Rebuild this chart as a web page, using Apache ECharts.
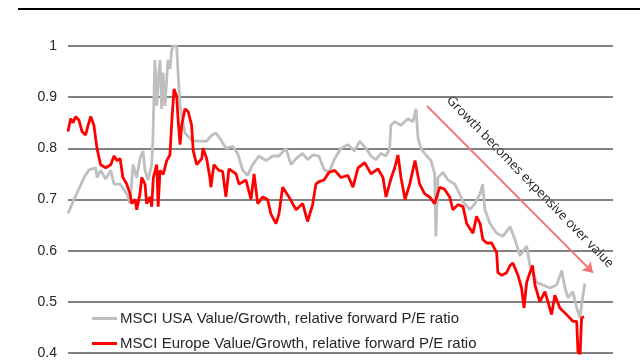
<!DOCTYPE html>
<html><head><meta charset="utf-8">
<script src="https://cdn.jsdelivr.net/npm/echarts@6/dist/echarts.min.js"></script>
<style>html,body{margin:0;padding:0;background:#fff}#c{width:640px;height:360px}</style>
</head><body><div id="c"></div>
<script>
// Y axis ticks
const yTicks = [0.4, 0.5, 0.6, 0.7, 0.8, 0.9, 1];
const seriesNames = ['MSCI USA Value/Growth, relative forward P/E ratio', 'MSCI Europe Value/Growth, relative forward P/E ratio'];
const annotationText = 'Growth becomes expensive over value';

// MSCI USA Value/Growth (decimal year, ratio)
const usaDates = [1995.00,1995.30,1995.79,1996.04,1996.37,1996.43,1996.61,1996.86,1997.11,1997.27,
  1997.57,1997.90,1998.06,1998.21,1998.39,1998.55,1998.70,1998.80,1998.95,1999.13,1999.19,1999.29,1999.38,1999.44,1999.54,1999.62,1999.69,1999.79,1999.87,1999.93,2000.03,2000.12,2000.18,2000.36,2000.43,2000.53,2000.77,2001.12,2001.46,2001.84,
  2002.05,2002.30,2002.55,2002.79,2003.12,2003.37,2003.62,2003.86,2004.11,2004.42,2004.77,2005.10,2005.41,2005.75,2006.00,2006.25,2006.58,2006.82,2007.07,2007.38,2007.63,2007.88,2008.16,2008.47,2008.81,2009.14,2009.39,2009.70,2009.95,2010.19,2010.44,2010.69,2010.87,2010.93,2011.12,2011.43,2011.77,2012.02,2012.17,2012.27,2012.41,2012.66,2012.91,2013.09,2013.15,2013.25,2013.50,2013.75,2014.08,2014.39,2014.49,2014.83,2015.08,2015.33,2015.46,2015.57,2015.82,2016.15,2016.46,2016.81,2017.05,2017.30,2017.63,2017.79,2018.12,2018.43,2018.78,2019.11,2019.36,2019.52,2019.67,2019.91,2020.10,2020.26,2020.39,2020.50];
const usaValues = [0.673,0.700,0.743,0.758,0.762,0.743,0.757,0.740,0.757,0.730,
  0.730,0.711,0.692,0.768,0.743,0.780,0.795,0.757,0.738,0.768,0.820,0.973,0.883,0.929,0.973,0.877,0.948,0.883,0.935,0.973,0.955,0.992,1.000,1.000,0.948,0.883,0.830,0.815,0.814,0.814,
  0.824,0.830,0.816,0.800,0.804,0.790,0.757,0.747,0.768,0.785,0.776,0.785,0.785,0.800,0.768,0.780,0.790,0.778,0.787,0.785,0.759,0.753,0.780,0.800,0.807,0.795,0.814,0.800,0.785,0.778,0.790,0.785,0.800,0.845,0.852,0.845,0.858,0.852,0.877,0.820,0.800,0.787,0.776,0.750,0.628,0.743,0.753,0.738,0.730,0.705,0.695,0.680,0.692,0.711,0.730,0.680,0.653,0.634,0.628,0.647,0.622,0.590,0.609,0.571,0.538,0.533,0.527,0.533,0.561,0.527,0.508,0.520,0.488,0.469,0.508,0.536];

// MSCI Europe Value/Growth (decimal year, ratio)
const eurDates = [1995.00,1995.13,1995.25,1995.38,1995.54,1995.69,1995.87,1995.99,1996.12,1996.28,1996.43,1996.61,1996.86,1997.11,1997.27,1997.42,
  1997.57,1997.71,1997.90,1998.06,1998.14,1998.31,1998.39,1998.55,1998.64,1998.80,1998.88,1999.05,1999.13,1999.21,1999.38,1999.45,1999.54,1999.62,1999.70,1999.87,2000.03,2000.12,2000.23,2000.36,2000.44,2000.53,2000.61,2000.77,2000.93,2001.10,2001.18,2001.35,2001.60,2001.66,2001.84,2002.00,
  2002.05,2002.20,2002.45,2002.63,2002.79,2002.94,2003.29,2003.44,2003.78,2004.03,2004.18,2004.36,2004.61,2004.85,2005.01,2005.26,2005.41,2005.59,2005.90,2006.25,2006.58,2006.82,2007.07,2007.23,2007.38,2007.63,2007.88,2008.16,2008.47,2008.81,2009.06,2009.31,2009.64,2009.95,2010.29,2010.54,2010.69,2010.93,2011.12,2011.28,2011.43,2011.63,2011.86,2012.12,2012.35,2012.60,2012.84,2013.09,2013.34,2013.58,2013.83,2013.99,2014.24,2014.49,2014.67,2014.98,2015.16,2015.33,2015.47,2015.66,2015.90,2016.15,2016.21,2016.40,2016.64,2016.81,2016.95,2017.20,2017.38,2017.50,2017.63,2017.79,2017.92,2018.04,2018.28,2018.53,2018.68,2018.86,2019.02,2019.27,2019.60,2019.91,2020.10,2020.16,2020.26,2020.34,2020.46];
const eurValues = [0.833,0.858,0.850,0.862,0.855,0.833,0.826,0.845,0.862,0.845,0.800,0.768,0.762,0.768,0.785,0.776,
  0.780,0.743,0.730,0.711,0.692,0.700,0.680,0.711,0.743,0.730,0.692,0.705,0.686,0.743,0.768,0.686,0.757,0.760,0.749,0.776,0.787,0.852,0.916,0.902,0.852,0.807,0.845,0.877,0.872,0.845,0.795,0.768,0.780,0.800,0.780,0.743,
  0.724,0.768,0.757,0.755,0.705,0.760,0.750,0.730,0.738,0.700,0.750,0.692,0.705,0.700,0.672,0.653,0.672,0.724,0.705,0.680,0.692,0.657,0.690,0.730,0.735,0.738,0.753,0.757,0.743,0.747,0.724,0.762,0.772,0.750,0.760,0.743,0.705,0.740,0.762,0.787,0.743,0.700,0.730,0.776,0.730,0.711,0.705,0.692,0.724,0.720,0.705,0.680,0.690,0.686,0.653,0.634,0.667,0.653,0.622,0.615,0.615,0.596,0.557,0.552,0.557,0.571,0.576,0.552,0.527,0.488,0.538,0.557,0.571,0.533,0.500,0.520,0.500,0.475,0.513,0.488,0.475,0.462,0.462,0.404,0.390,0.469,0.471];

// Trend arrow endpoints (decimal year, ratio)
const arrowStart = [2012.71, 0.883];
const arrowEnd = [2020.90, 0.557];

const zip = (a, b) => a.map((d, i) => [d, b[i]]);
const chart = echarts.init(document.getElementById('c'), null, {renderer: 'canvas'});
chart.setOption({
  animation: false,
  backgroundColor: '#ffffff',
  grid: {left: 68, right: 27, top: 46, bottom: 1, containLabel: false},
  xAxis: {type: 'value', min: 1995, max: 2021.89, show: false},
  yAxis: {
    type: 'value', min: yTicks[0], max: yTicks[yTicks.length - 1], interval: 0.1,
    axisLine: {show: false}, axisTick: {show: false},
    axisLabel: {margin: 11, color: '#262626', fontSize: 14, fontFamily: 'Liberation Sans',
      formatter: v => String(Math.round(v * 10) / 10)},
    splitLine: {lineStyle: {color: '#595959', width: 1.5}}
  },
  legend: {
    orient: 'vertical', left: 92, top: 311, padding: 0, itemWidth: 25, itemHeight: 3, itemGap: 10,
    icon: 'rect',
    textStyle: {fontSize: 15, fontFamily: 'Liberation Sans', color: '#262626', padding: [0, 0, 0, -2]},
    data: seriesNames
  },
  series: [
    {name: seriesNames[0], type: 'line', data: zip(usaDates, usaValues), showSymbol: false,
      color: '#bfbfbf', lineStyle: {color: '#bfbfbf', width: 2.8}, z: 2,
      markLine: {silent: true, symbol: ['none', 'arrow'], symbolSize: 10,
        lineStyle: {color: '#f27272', width: 2, type: 'solid'}, label: {show: false},
        data: [[{coord: arrowStart}, {coord: arrowEnd}]]}},
    {name: seriesNames[1], type: 'line', data: zip(eurDates, eurValues), showSymbol: false,
      color: '#ff0000', lineStyle: {color: '#ff0000', width: 2.8}, z: 3}
  ],
  graphic: [
    {type: 'line', shape: {x1: 18, y1: 9, x2: 640, y2: 9}, style: {stroke: '#000', lineWidth: 2}},
    {type: 'text', x: 530, y: 182, rotation: -0.80,
      style: {text: annotationText, font: '13px "Open Sans"', fill: '#1a1a1a', align: 'center', verticalAlign: 'middle'}}
  ]
});
</script></body></html>
